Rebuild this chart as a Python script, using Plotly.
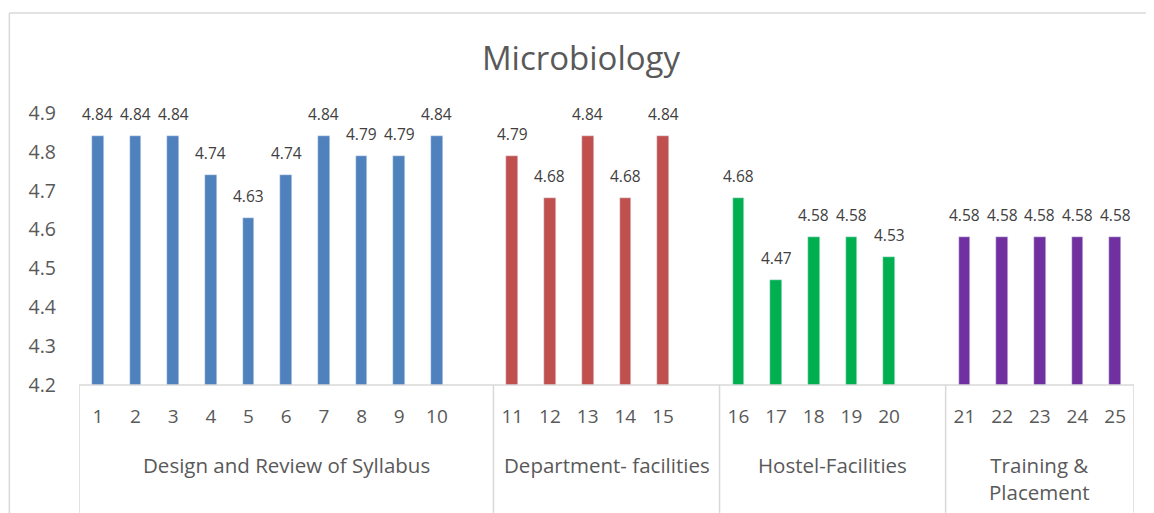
import plotly.graph_objects as go

groups = ["Design and Review of Syllabus", "Department- facilities", "Hostel-Facilities", "Training &<br>Placement"]
group_items = [list(range(1, 11)), list(range(11, 16)), list(range(16, 21)), list(range(21, 26))]
group_values = [
    [4.84, 4.84, 4.84, 4.74, 4.63, 4.74, 4.84, 4.79, 4.79, 4.84],
    [4.79, 4.68, 4.84, 4.68, 4.84],
    [4.68, 4.47, 4.58, 4.58, 4.53],
    [4.58, 4.58, 4.58, 4.58, 4.58],
]
colors = ["#4F81BD", "#C0504D", "#00B050", "#7030A0"]
y_ticks = [4.2, 4.3, 4.4, 4.5, 4.6, 4.7, 4.8, 4.9]

FONT = "Open Sans, sans-serif"
fig = go.Figure()

annotations = []
pos = 0
tickvals, ticktext = [], []
bounds = [-0.5]
centers = []
for gi, (items, vals) in enumerate(zip(group_items, group_values)):
    xs = list(range(pos, pos + len(items)))
    fig.add_trace(go.Bar(
        x=xs, y=vals, marker_color=colors[gi], width=0.31, showlegend=False,
    ))
    for x, v in zip(xs, vals):
        annotations.append(dict(x=x, y=v, xref="x", yref="y", text=f"{v:.2f}", showarrow=False,
                                yanchor="middle", yshift=22,
                                font=dict(size=15.5, color="#404040", family=FONT)))
    tickvals += xs
    ticktext += [str(i) for i in items]
    start = pos
    pos += len(items)
    if gi < len(group_items) - 1:
        end = pos + 0.5
        pos += 1
    else:
        end = pos - 0.5
    bounds.append(end)
    centers.append((start - 0.5 + end) / 2)

shapes = []
for b in bounds:
    shapes.append(dict(type="line", xref="x", yref="paper", x0=b, x1=b, y0=0, y1=-0.47,
                       line=dict(color="#D9D9D9", width=1.5)))
shapes.append(dict(type="line", xref="x", yref="paper", x0=-0.5, x1=bounds[-1], y0=0, y1=0,
                   line=dict(color="#D9D9D9", width=1.5)))
# chart border
shapes.append(dict(type="line", xref="paper", yref="paper", x0=-0.066, x1=1.1, y0=1.3676, y1=1.3676,
                   line=dict(color="#D9D9D9", width=1.5)))
shapes.append(dict(type="line", xref="paper", yref="paper", x0=-0.066, x1=-0.066, y0=1.3676, y1=-0.6,
                   line=dict(color="#D9D9D9", width=1.5)))

for c, g in zip(centers, groups):
    annotations.append(dict(x=c, xref="x", y=-0.235, yref="paper", text=g, showarrow=False,
                            yanchor="top", font=dict(size=20.5, color="#595959", family=FONT)))

fig.update_layout(
    width=1146, height=505,
    margin=dict(l=71, r=20, t=105, b=128),
    paper_bgcolor="white", plot_bgcolor="white",
    title=dict(text="Microbiology", x=0.5, xanchor="center", y=0.9, yanchor="middle",
               font=dict(size=33, color="#595959", family=FONT)),
    shapes=shapes, annotations=annotations, bargap=0,
)
fig.update_xaxes(range=[-0.5, bounds[-1]], tickvals=tickvals, ticktext=ticktext, showgrid=False,
                 zeroline=False, showline=False, ticks="", ticklabelstandoff=18,
                 tickfont=dict(size=19, color="#595959", family=FONT))
fig.update_yaxes(range=[4.2, 4.9], tickvals=y_ticks, ticktext=[f"{v:.1f}" for v in y_ticks],
                 showgrid=False, zeroline=False, showline=False, ticks="", ticklabelstandoff=22,
                 tickfont=dict(size=19.5, color="#595959", family=FONT))

fig.write_html("out.html")
